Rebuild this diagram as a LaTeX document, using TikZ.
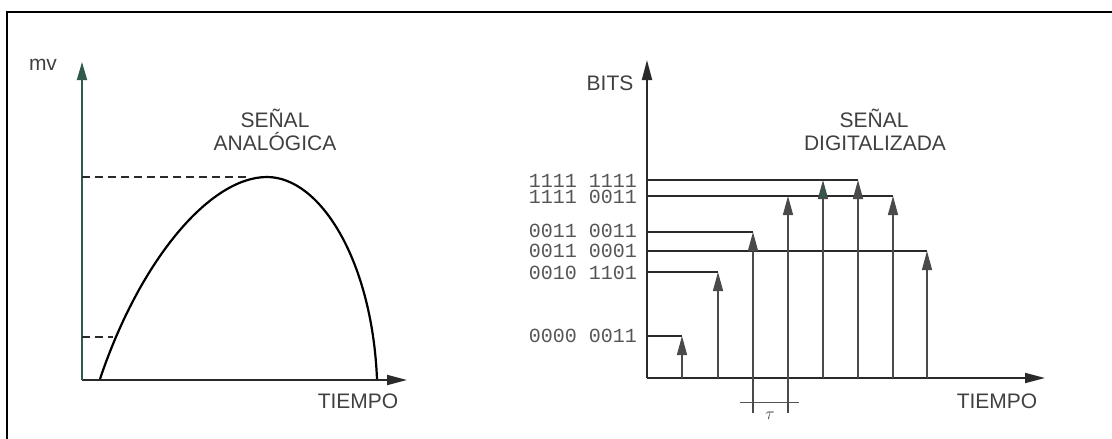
\documentclass[tikz,border=0pt]{standalone}
\usepackage{fontspec}
\setmainfont{Liberation Sans}
\newfontfamily\monof{Liberation Mono}
\usetikzlibrary{arrows.meta}
\definecolor{axgreen}{HTML}{2F5A4C}
\definecolor{txtgray}{HTML}{404040}
\definecolor{bingray}{HTML}{555555}
\definecolor{linegray}{HTML}{2A2A2A}
\begin{document}
\begin{tikzpicture}[x=1pt,y=-1pt,
  lbl/.style={font=\fontsize{21}{23}\selectfont, text=txtgray, inner sep=0pt, anchor=base},
  binlbl/.style={font=\monof\fontsize{20}{22}\selectfont, text=bingray, inner sep=0pt, anchor=base east},
  axisline/.style={line width=1.8pt, draw=linegray, -{Triangle[length=20pt,width=10pt]}},
  gaxis/.style={line width=1.8pt, draw=axgreen, -{Triangle[length=18pt,width=10pt]}},
  stair/.style={line width=1.8pt, draw=linegray},
  varrow/.style={line width=1.4pt, draw=linegray!85, -{Triangle[length=19pt,width=10pt]}},
  dashline/.style={line width=1.2pt, dash pattern=on 8pt off 5pt, draw=linegray},
  frameline/.style={line width=2.2pt, draw=black}
]
\useasboundingbox (0,0) rectangle (1112,439);
% frame
\draw[frameline] (7,439) -- (7,12) -- (1112,12);

% ---------- left plot ----------
\coordinate (lo) at (82,380);
\coordinate (lytop) at (82,62);
\coordinate (lxend) at (407,380);
\coordinate (cs) at (100,379);
\coordinate (cp) at (267,177);
\coordinate (ce) at (377,379);
\draw[axisline] (lo) -- (lxend);
\draw[gaxis] (lo) -- (lytop);
\draw[line width=2.2pt, black] (cs) .. controls (140,260) and (210,177) .. (cp)
  .. controls (320,177) and (372,260) .. (ce);
\coordinate (d1a) at (82,177); \coordinate (d1b) at (250,177);
\coordinate (d2a) at (82,337); \coordinate (d2b) at (113,337);
\draw[dashline] (d1a) -- (d1b);
\draw[dashline] (d2a) -- (d2b);
\node[lbl] (mv) at (43,70) {mv};
\node[lbl] (sa1) at (275,127) {SEÑAL};
\node[lbl] (sa2) at (275,150) {ANALÓGICA};
\node[lbl] (t1) at (358,408) {TIEMPO};

% ---------- right plot ----------
\coordinate (ro) at (647,378);
\coordinate (rytop) at (647,60);
\coordinate (rxend) at (1045,378);
\draw[axisline] (ro) -- (rxend);
\draw[axisline] (ro) -- (rytop);
\node[lbl] (bits) at (610,90) {BITS};
\node[lbl] (sd1) at (874,127) {SEÑAL};
\node[lbl] (sd2) at (875,150) {DIGITALIZADA};
\node[lbl] (t2) at (997,408) {TIEMPO};

% binary labels
\node[binlbl] (b1) at (637,187) {1111 1111};
\node[binlbl] (b2) at (637,203) {1111 0011};
\node[binlbl] (b3) at (637,237) {0011 0011};
\node[binlbl] (b4) at (637,257) {0011 0001};
\node[binlbl] (b5) at (637,279) {0010 1101};
\node[binlbl] (b6) at (637,342) {0000 0011};

% levels on y axis
\coordinate (L1) at (647,180);
\coordinate (L2) at (647,196);
\coordinate (L3) at (647,232);
\coordinate (L4) at (647,251);
\coordinate (L5) at (647,272);
\coordinate (L6) at (647,336);
% corner points
\coordinate (c1) at (858,180);
\coordinate (c2) at (893,196);
\coordinate (c3) at (753,232);
\coordinate (c4) at (927,251);
\coordinate (c5) at (718,272);
\coordinate (c6) at (682,336);
\coordinate (c7) at (788,196);
\coordinate (c8) at (823,180);
% feet
\coordinate (f6) at (682,378);
\coordinate (f5) at (718,378);
\coordinate (f3) at (753,413);
\coordinate (f7) at (788,413);
\coordinate (f8) at (823,378);
\coordinate (f1) at (858,378);
\coordinate (f2) at (893,378);
\coordinate (f4) at (927,378);

\draw[stair] (L1) -- (c1);
\draw[stair] (L2) -- (c2);
\draw[stair] (L3) -- (c3);
\draw[stair] (L4) -- (c4);
\draw[stair] (L5) -- (c5);
\draw[stair] (L6) -- (c6);

\draw[varrow] (f6) -- (c6);
\draw[varrow] (f5) -- (c5);
\draw[varrow] (f3) -- (c3);
\draw[varrow] (f7) -- (c7);
\draw[varrow, -{Triangle[length=19pt,width=10pt,fill=axgreen]}] (f8) -- (c8);
\draw[varrow] (f1) -- (c1);
\draw[varrow] (f2) -- (c2);
\draw[varrow] (f4) -- (c4);

% tau marker
\coordinate (ta) at (740,402);
\coordinate (tb) at (799,402);
\draw[line width=0.9pt, linegray!80] (ta) -- (tb);
\node[inner sep=0pt, text=txtgray, font=\fontsize{17}{17}\selectfont] (tau) at (770,416) {$\tau$};
\end{tikzpicture}
\end{document}
